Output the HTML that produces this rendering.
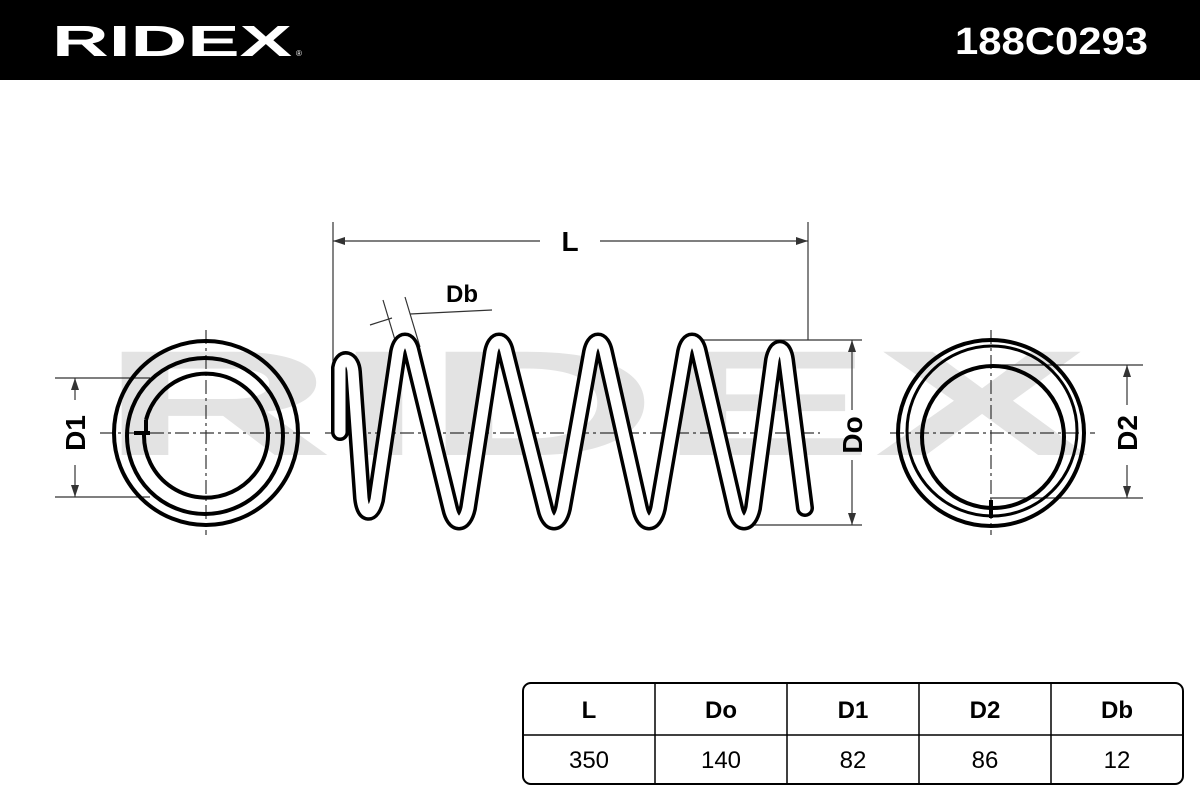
<!DOCTYPE html>
<html><head><meta charset="utf-8"><style>
html,body{margin:0;padding:0;background:#fff;}
body{width:1200px;height:800px;position:relative;overflow:hidden;font-family:"Liberation Sans",sans-serif;}
</style></head><body>
<svg width="1200" height="800" viewBox="0 0 1200 800" xmlns="http://www.w3.org/2000/svg">
<rect x="0" y="0" width="1200" height="80" fill="#000"/>
<text x="52" y="56" fill="#fff" font-family="Liberation Sans, sans-serif" font-weight="bold" font-size="44" textLength="240" lengthAdjust="spacingAndGlyphs">RIDEX</text>
<text x="296" y="56" fill="#fff" font-size="8">®</text>
<text x="955" y="54" fill="#fff" font-family="Liberation Sans, sans-serif" font-weight="bold" font-size="38" textLength="193" lengthAdjust="spacingAndGlyphs">188C0293</text>

<!-- watermark -->
<text x="100" y="455" fill="#e3e3e3" font-family="Liberation Sans, sans-serif" font-weight="bold" font-size="150" textLength="990" lengthAdjust="spacingAndGlyphs">RIDEX</text>

<!-- centerlines -->
<g stroke="#333" stroke-width="1.2" stroke-dasharray="14,4,3,4" fill="none">
<line x1="100" y1="433" x2="310" y2="433"/>
<line x1="206" y1="330" x2="206" y2="535"/>
<line x1="325" y1="433" x2="820" y2="433"/>
<line x1="890" y1="433" x2="1095" y2="433"/>
<line x1="991" y1="330" x2="991" y2="535"/>
</g>

<!-- dimension lines -->
<g stroke="#333" stroke-width="1.2" fill="none">
<line x1="333" y1="222" x2="333" y2="433"/>
<line x1="808" y1="222" x2="808" y2="340"/>
<line x1="333" y1="241" x2="540" y2="241"/>
<line x1="600" y1="241" x2="808" y2="241"/>
<line x1="690" y1="340" x2="862" y2="340"/>
<line x1="750" y1="525" x2="862" y2="525"/>
<line x1="852" y1="340" x2="852" y2="410"/>
<line x1="852" y1="460" x2="852" y2="525"/>
<line x1="55" y1="378" x2="150" y2="378"/>
<line x1="55" y1="497" x2="150" y2="497"/>
<line x1="75" y1="378" x2="75" y2="400"/>
<line x1="75" y1="465" x2="75" y2="497"/>
<line x1="1000" y1="365" x2="1143" y2="365"/>
<line x1="990" y1="498" x2="1143" y2="498"/>
<line x1="1127" y1="365" x2="1127" y2="405"/>
<line x1="1127" y1="465" x2="1127" y2="498"/>
<line x1="383" y1="300" x2="398" y2="350"/>
<line x1="405" y1="297" x2="420" y2="347"/>
<line x1="370" y1="325" x2="392" y2="318"/>
<line x1="410" y1="314" x2="492" y2="310"/>
</g>
<g fill="#333">
<polygon points="333,241 345,237 345,245"/>
<polygon points="808,241 796,237 796,245"/>
<polygon points="852,340 848,352 856,352"/>
<polygon points="852,525 848,513 856,513"/>
<polygon points="75,378 71,390 79,390"/>
<polygon points="75,497 71,485 79,485"/>
<polygon points="1127,365 1123,377 1131,377"/>
<polygon points="1127,498 1123,486 1131,486"/>
</g>
<g font-family="Liberation Sans, sans-serif" font-weight="bold" font-size="28" fill="#000">
<text x="570" y="251" text-anchor="middle">L</text>
<text x="462" y="302" text-anchor="middle" font-size="24">Db</text>
<text transform="translate(862,435) rotate(-90)" text-anchor="middle">Do</text>
<text transform="translate(85,433) rotate(-90)" text-anchor="middle">D1</text>
<text transform="translate(1137,433) rotate(-90)" text-anchor="middle">D2</text>
</g>

<!-- spring -->
<g fill="none" stroke-linejoin="round" stroke-linecap="round">
<path d="M340,432 L340,368 C342,356 352,358 353,372 L362,498 C364,516 372,516 376,500 L398,352 C401,338 409,338 412,352 L450,508 C454,526 464,526 468,508 L492,352 C495,338 503,338 506,352 L545,508 C549,526 559,526 563,508 L591,352 C594,338 602,338 605,352 L640,508 C644,526 654,526 658,508 L685,352 C688,338 696,338 699,352 L735,508 C739,526 749,526 753,508 L773,360 C776,345 784,345 786,360 L805,508" stroke="#000" stroke-width="18"/>
<path d="M340,432 L340,368 C342,356 352,358 353,372 L362,498 C364,516 372,516 376,500 L398,352 C401,338 409,338 412,352 L450,508 C454,526 464,526 468,508 L492,352 C495,338 503,338 506,352 L545,508 C549,526 559,526 563,508 L591,352 C594,338 602,338 605,352 L640,508 C644,526 654,526 658,508 L685,352 C688,338 696,338 699,352 L735,508 C739,526 749,526 753,508 L773,360 C776,345 784,345 786,360 L805,508" stroke="#fff" stroke-width="11"/>
</g>

<!-- left end view -->
<g fill="none" stroke="#000" stroke-width="4">
<circle cx="206" cy="433" r="92"/>
<circle cx="205" cy="436" r="78"/>
<path d="M146,420 A62,62 0 1 1 144,435"/>
<path d="M146,420 L146,433"/>
<line x1="134" y1="433" x2="150" y2="433"/>
</g>
<!-- right end view -->
<g fill="none" stroke="#000" stroke-width="4">
<circle cx="991" cy="433" r="93"/>
<circle cx="992" cy="431" r="85" stroke-width="3"/>
<circle cx="993" cy="437" r="71"/>
<line x1="991" y1="500" x2="991" y2="518"/>
</g>

<!-- table -->
<rect x="523" y="683" width="660" height="101" rx="8" fill="none" stroke="#000" stroke-width="2"/>
<g stroke="#000" stroke-width="1.5">
<line x1="523" y1="735" x2="1183" y2="735"/>
<line x1="655" y1="683" x2="655" y2="784"/>
<line x1="787" y1="683" x2="787" y2="784"/>
<line x1="919" y1="683" x2="919" y2="784"/>
<line x1="1051" y1="683" x2="1051" y2="784"/>
</g>
<g font-family="Liberation Sans, sans-serif" font-size="24" text-anchor="middle" fill="#000">
<g font-weight="bold">
<text x="589" y="718">L</text><text x="721" y="718">Do</text><text x="853" y="718">D1</text><text x="985" y="718">D2</text><text x="1117" y="718">Db</text>
</g>
<text x="589" y="768">350</text><text x="721" y="768">140</text><text x="853" y="768">82</text><text x="985" y="768">86</text><text x="1117" y="768">12</text>
</g>
</svg>
</body></html>
